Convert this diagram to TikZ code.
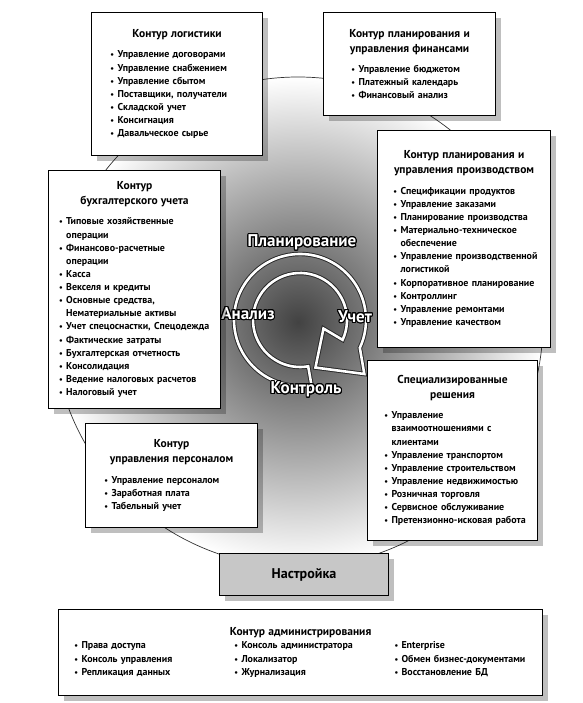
\documentclass[tikz,border=0pt]{standalone}
\usepackage{fontspec}
\setmainfont{PT Sans}
\usepackage{enumitem}
\usepackage{contour}
\usetikzlibrary{shadows}
\setlength{\parindent}{0pt}
\setlist[itemize]{label={\scriptsize\textbullet}, labelsep=0.1cm, itemsep=0pt, parsep=0pt, topsep=0.22cm, partopsep=0pt}
\contourlength{0.9pt}
\newcommand{\ttl}[1]{{\fontsize{9.8}{12.8}\selectfont\makebox[\linewidth]{#1}\par}}

\begin{document}
\begin{tikzpicture}[x=0.03cm, y=0.03cm,
    box/.style={draw=black, line width=0.9pt, fill=white, anchor=north west, align=left,
      inner xsep=0.3cm, inner ysep=0.15cm,
      font=\fontsize{8.5}{11.2}\selectfont\bfseries,
      drop shadow={shadow xshift=0.15cm, shadow yshift=-0.15cm, fill=black, opacity=0.25}},
    ring/.style={draw=white, line width=2.2pt, line join=miter,
      preaction={draw=black!85, line width=3.8pt}},
    lbl/.style={text=white, font=\fontsize{14.5}{16}\selectfont\bfseries, inner sep=0pt}]

    \useasboundingbox (0,0) rectangle (582,-703);

    % 1. Sfondo sfumato e cerchio grande
    \shade[inner color=black!74, outer color=white] (298,-322) circle[radius=245];
    \draw[black!80, line width=0.6pt] (298,-322) circle[radius=245];

    % 2. Freccia del ciclo
    \begin{scope}[shift={(300,-320)}]
        \path[ring] (-80:66) arc[start angle=-80, end angle=-385, radius=66]
            -- (-40:84) -- (-72:50) -- (-20:25) -- (-25:47)
            arc[start angle=-385, end angle=-80, radius=47] -- cycle;
    \end{scope}

    % 3. Etichette del ciclo
    \node[lbl] (plan) at (302,-243) {\contour{black}{Планирование}};
    \node[lbl] (anal) at (248,-314) {\contour{black}{Анализ}};
    \node[lbl] (uchet) at (355,-317) {\contour{black}{Учет}};
    \node[lbl] (kontr) at (306,-390) {\contour{black}{Контроль}};

    % 4. Contorni
    \node[box, text width=4.53cm, minimum height=4.29cm] (log) at (91,-12) {%
        \ttl{Контур логистики}
        \begin{itemize}[leftmargin=0.48cm]
        \item Управление договорами
        \item Управление снабжением
        \item Управление сбытом
        \item Поставщики, получатели
        \item Складской учет
        \item Консигнация
        \item Давальческое сырье
        \end{itemize}};

    \node[box, text width=4.56cm, minimum height=3.09cm] (fin) at (323,-12) {%
        \ttl{Контур планирования и}
        \ttl{управления финансами}
        \begin{itemize}[leftmargin=0.75cm]
        \item Управление бюджетом
        \item Платежный календарь
        \item Финансовый анализ
        \end{itemize}};

    \node[box, text width=4.59cm, minimum height=6.51cm] (prod) at (377,-130) {%
        \ttl{Контур планирования и}
        \ttl{управления производством}
        \begin{itemize}[leftmargin=0.39cm]
        \item Спецификации продуктов
        \item Управление заказами
        \item Планирование производства
        \item Материально-техническое\\ обеспечение
        \item Управление производственной\\ логистикой
        \item Корпоративное планирование
        \item Контроллинг
        \item Управление ремонтами
        \item Управление качеством
        \end{itemize}};

    \node[box, inner xsep=0.2cm, text width=4.76cm, minimum height=7.14cm] (acc) at (48,-170) {%
        \ttl{Контур}
        \ttl{бухгалтерского учета}
        \begin{itemize}[leftmargin=0.33cm]
        \item Типовые хозяйственные\\ операции
        \item Финансово-расчетные\\ операции
        \item Касса
        \item Векселя и кредиты
        \item Основные средства,\\ Нематериальные активы
        \item \mbox{Учет спецоснастки, Спецодежда}
        \item Фактические затраты
        \item Бухгалтерская отчетность
        \item Консолидация
        \item Ведение налоговых расчетов
        \item Налоговый учет
        \end{itemize}};

    \node[box, text width=4.5cm, minimum height=5.4cm] (spec) at (367,-360) {%
        \ttl{Специализированные}
        \ttl{решения}
        \begin{itemize}[leftmargin=0.42cm]
        \item Управление\\ взаимоотношениями с\\ клиентами
        \item Управление транспортом
        \item Управление строительством
        \item Управление недвижимостью
        \item Розничная торговля
        \item Сервисное обслуживание
        \item Претензионно-исковая работа
        \end{itemize}};

    \node[box, text width=4.56cm, minimum height=3.12cm] (pers) at (85,-423) {%
        \ttl{Контур}
        \ttl{управления персоналом}
        \begin{itemize}[leftmargin=0.48cm]
        \item Управление персоналом
        \item Заработная плата
        \item Табельный учет
        \end{itemize}};

    \node[box, fill=black!22, align=center, minimum width=5.07cm, minimum height=1.26cm,
        font=\fontsize{12}{14}\selectfont\bfseries] (setup) at (219,-553) {Настройка};

    \node[box, text width=13.92cm, minimum height=2.58cm] (admin) at (58,-609) {%
        \ttl{Контур администрирования}
        \begin{minipage}[t]{4.8cm}
        \begin{itemize}[leftmargin=0.39cm]
        \item Права доступа
        \item Консоль управления
        \item Репликация данных
        \end{itemize}
        \end{minipage}%
        \begin{minipage}[t]{4.8cm}
        \begin{itemize}[leftmargin=0.39cm]
        \item Консоль администратора
        \item Локализатор
        \item Журнализация
        \end{itemize}
        \end{minipage}%
        \begin{minipage}[t]{4.32cm}
        \begin{itemize}[leftmargin=0.39cm]
        \item Enterprise
        \item Обмен бизнес-документами
        \item Восстановление БД
        \end{itemize}
        \end{minipage}};

\end{tikzpicture}
\end{document}
